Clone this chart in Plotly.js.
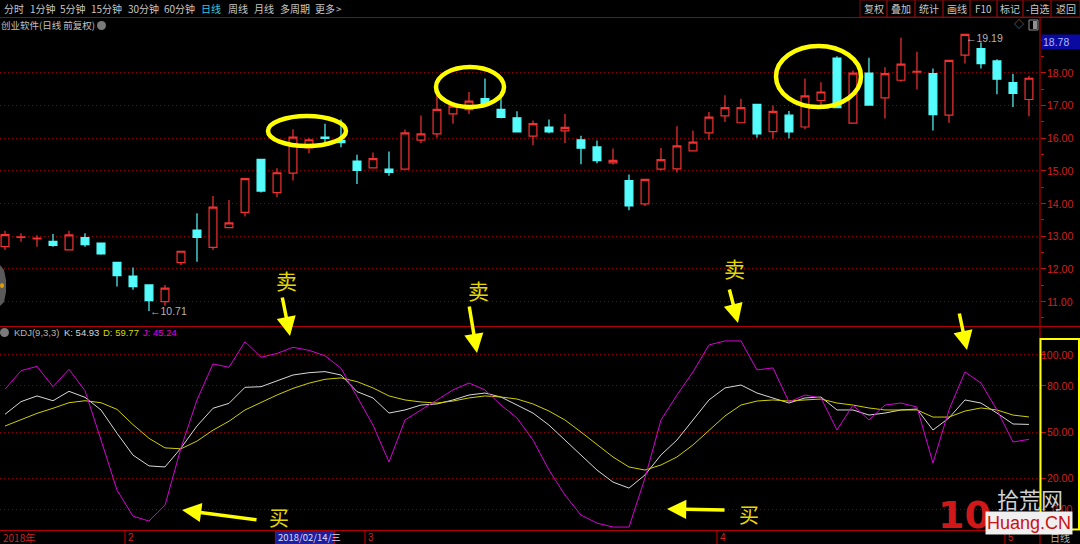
<!DOCTYPE html>
<html><head><meta charset="utf-8">
<script src="https://cdn.plot.ly/plotly-3.0.1.min.js"></script>
<style>html,body{margin:0;padding:0;background:#000;}#c{width:1080px;height:544px;}</style>
</head><body><div id="c"></div>
<script>
// ---- data ----
var dates = ['2018-01-22','2018-01-23','2018-01-24','2018-01-25','2018-01-26','2018-01-29','2018-01-30','2018-01-31',
'2018-02-01','2018-02-02','2018-02-05','2018-02-06','2018-02-07','2018-02-08','2018-02-09','2018-02-12','2018-02-13','2018-02-14','2018-02-22','2018-02-23','2018-02-26','2018-02-27','2018-02-28',
'2018-03-01','2018-03-02','2018-03-05','2018-03-06','2018-03-07','2018-03-08','2018-03-09','2018-03-12','2018-03-13','2018-03-14','2018-03-15','2018-03-16','2018-03-19','2018-03-20','2018-03-21','2018-03-22','2018-03-23','2018-03-26','2018-03-27','2018-03-28','2018-03-29','2018-03-30',
'2018-04-02','2018-04-03','2018-04-04','2018-04-09','2018-04-10','2018-04-11','2018-04-12','2018-04-13','2018-04-16','2018-04-17','2018-04-18','2018-04-19','2018-04-20','2018-04-23','2018-04-24','2018-04-25','2018-04-26','2018-04-27',
'2018-05-02','2018-05-03'];
var openP  = [12.68,12.96,12.92,12.84,12.58,12.96,12.79,12.20,11.78,11.51,11.00,12.19,13.19,12.66,13.26,13.73,15.35,14.33,14.93,15.70,16.03,15.93,15.30,15.09,15.05,15.05,15.94,16.13,16.74,16.87,17.21,16.88,16.62,16.06,16.34,16.22,15.95,15.73,15.24,14.70,13.99,15.05,15.06,15.61,16.16,16.68,16.47,17.03,16.20,16.70,16.34,17.15,18.45,16.46,17.99,17.23,17.77,18.02,17.97,16.70,18.54,18.74,18.36,17.70,17.18];
var highP  = [13.17,13.09,13.03,13.07,13.17,13.09,12.79,12.20,12.04,11.51,11.51,12.54,13.70,14.23,14.11,14.76,15.36,15.08,16.27,16.01,16.44,16.57,15.49,15.56,15.59,16.26,16.69,17.30,17.05,17.41,17.82,17.26,16.82,16.54,16.57,16.74,16.07,15.93,15.68,14.89,14.74,15.70,16.36,16.23,16.80,17.31,17.20,17.05,17.00,16.83,17.82,17.71,18.50,18.07,18.46,18.17,19.07,18.64,18.13,18.38,19.19,18.92,18.41,17.97,17.90];
var lowP   = [12.58,12.83,12.68,12.68,12.56,12.68,12.43,11.46,11.36,10.71,10.87,12.12,12.22,12.58,13.26,13.60,14.34,14.19,14.70,15.54,15.88,15.72,14.60,15.09,14.85,15.05,15.85,16.01,16.44,16.74,17.05,16.61,16.19,15.78,16.15,15.85,15.20,15.23,15.19,13.79,13.92,15.01,14.95,15.61,15.94,16.49,16.47,16.01,15.98,15.99,16.27,16.93,16.91,16.46,17.01,16.60,17.72,17.49,16.23,16.47,18.28,18.13,17.34,16.95,16.67];
var closeP = [13.05,12.98,12.94,12.72,13.04,12.74,12.46,11.79,11.46,11.03,11.41,12.54,12.96,13.89,13.41,14.76,14.38,14.94,16.03,15.95,15.99,15.86,15.01,15.37,14.95,16.16,16.13,16.88,16.98,17.13,17.05,16.63,16.19,16.44,16.19,16.33,15.69,15.31,15.32,13.93,14.74,15.34,15.76,15.88,16.64,16.93,16.93,16.13,16.82,16.19,17.29,17.41,16.93,17.99,17.01,17.97,18.26,18.04,16.72,18.38,19.17,18.28,17.80,17.37,17.83];
var kVal = [61.5,69.7,73.4,70.3,76.4,72.5,64.3,49.2,35.0,28.0,27.3,39.6,53.9,65.4,68.6,79.0,79.4,83.0,87.0,88.5,89.2,87.0,76.2,
72.1,62.3,64.3,67.5,68.2,70.8,74.0,75.3,72.7,67.5,62.3,54.5,44.8,35.1,25.3,17.5,13.6,22.1,35.1,44.8,57.8,70.8,78.6,80.5,75.3,72.1,68.8,72.1,72.7,64.3,64.3,61.0,62.3,64.3,64.9,51.3,59.1,70.8,68.8,62.3,55.2,54.93];
var dVal = [53.9,58.2,62.1,65.4,69.0,70.3,69.0,64.7,54.8,45.9,39.7,39.1,44.1,51.2,57.0,64.3,69.4,74.0,78.3,81.7,84.2,85.1,82.7,
78.6,73.4,70.8,69.5,68.8,70.1,72.1,73.4,72.7,71.4,68.2,63.6,57.8,50.0,41.6,33.8,27.3,25.3,28.6,33.8,41.6,51.3,60.4,67.5,70.1,70.8,70.1,70.8,71.4,68.8,67.5,65.6,64.3,64.3,64.3,59.7,59.7,63.6,65.6,64.3,61.0,59.77];
var jVal = [77.7,89.8,92.6,79.4,90.7,76.8,44.8,12.3,-4.6,-7.8,2.5,39.6,70.8,94.2,92.0,108.6,98.5,101.0,105.0,103.0,99.5,91.4,73.0,
54.5,30.5,57.8,64.3,70.8,77.3,81.8,77.3,67.5,59.1,44.8,25.3,9.1,-3.9,-9.1,-11.7,-11.7,20.1,57.8,74.0,89.0,106.5,109.1,109.1,90.3,91.6,69.5,74.0,72.1,51.3,67.5,57.8,67.5,68.8,66.2,29.9,64.3,89.0,81.8,64.3,43.5,45.24];
var priceTicks = [11,12,13,14,15,16,17,18];
var kdjTicks = [0,20,50,80,100];
var monthLabels = ['2','3','4','5'];
var toolbarItems = ['分时','1分钟','5分钟','15分钟','30分钟','60分钟','日线','周线','月线','多周期','更多','>'];
var toolbarX = [2,28,58,89,126,162,199,226,252,278,313,334];
var buttons = ['复权','叠加','统计','画线','F10','标记','-自选','返回'];
var buttonEdges = [860,887,915,943,970,997,1023,1051,1080];

// ---- layout helpers (pixel -> paper) ----
var W = 1040, TOP = 30, BOT = 530, H = BOT - TOP;
function PX(x){ return x / W; }
function PY(y){ return (BOT - y) / H; }
var FONT = 'Liberation Sans, Noto Sans CJK SC, sans-serif';
var CJK = 'Noto Sans CJK SC, sans-serif';
function T(text, x, y, color, size, anchor, family, extra){
  var a = {xref:'paper', yref:'paper', x:PX(x), y:PY(y), text:text, showarrow:false,
    xanchor: anchor || 'left', yanchor:'middle', font:{family: family || CJK, size: size || 10, color: color || '#c8c8c8'}};
  if (extra) for (var k in extra) a[k] = extra[k];
  return a;
}
function R(x0,y0,x1,y1,line,fill,w){
  return {type:'rect', xref:'paper', yref:'paper', x0:PX(x0), x1:PX(x1), y0:PY(y1), y1:PY(y0),
    line:{color: line || 'rgba(0,0,0,0)', width: w===undefined?1:w}, fillcolor: fill || 'rgba(0,0,0,0)', layer:'above'};
}
function L(x0,y0,x1,y1,color,w,dash){
  return {type:'line', xref:'paper', yref:'paper', x0:PX(x0), x1:PX(x1), y0:PY(y0), y1:PY(y1),
    line:{color:color, width:w||1, dash:dash||'solid'}, layer:'above'};
}
function E(x0,y0,x1,y1){
  return {type:'circle', xref:'paper', yref:'paper', x0:PX(x0), x1:PX(x1), y0:PY(y1), y1:PY(y0),
    line:{color:'#ffff00', width:4.5}, layer:'above'};
}
function ARW(tx,ty,fx,fy){
  return {xref:'paper', yref:'paper', x:PX(tx), y:PY(ty), ax:fx-tx, ay:fy-ty, axref:'pixel', ayref:'pixel',
    text:'', showarrow:true, arrowhead:2, arrowsize:1.1, arrowwidth:3.5, arrowcolor:'#ffff00'};
}

var traces = [
  {type:'candlestick', x:dates, open:openP, high:highP, low:lowP, close:closeP, xaxis:'x', yaxis:'y',
   increasing:{line:{color:'#f23232', width:1.2}, fillcolor:'#000000'},
   decreasing:{line:{color:'#54fcfc', width:1.2}, fillcolor:'#54fcfc'},
   whiskerwidth:0, hoverinfo:'skip', showlegend:false},
  {type:'scatter', mode:'lines', x:dates, y:kVal, xaxis:'x', yaxis:'y2', line:{color:'#d8d8d8', width:1}, showlegend:false, hoverinfo:'skip'},
  {type:'scatter', mode:'lines', x:dates, y:dVal, xaxis:'x', yaxis:'y2', line:{color:'#d0d000', width:1}, showlegend:false, hoverinfo:'skip'},
  {type:'scatter', mode:'lines', x:dates, y:jVal, xaxis:'x', yaxis:'y2', line:{color:'#d800d8', width:1}, showlegend:false, hoverinfo:'skip'}
];

var annotations = [], shapes = [];
// toolbar
toolbarItems.forEach(function(t,i){ annotations.push(T(t, toolbarX[i], 9, t==='日线' ? '#3ec8e0' : '#c8c8c8', 10)); });
buttons.forEach(function(t,i){
  shapes.push(R(buttonEdges[i], 0, buttonEdges[i+1], 17, '#7a0a0a', null, 1));
  annotations.push(T(t, (buttonEdges[i]+buttonEdges[i+1])/2, 9, '#c8c8c8', 10, 'center'));
});
shapes.push(L(0,17.5,1080,17.5,'#a00000',1.2));
annotations.push(T('创业软件(日线 前复权)', -1, 25, '#c0c0c0', 9.5));
shapes.push({type:'circle', xref:'paper', yref:'paper', x0:PX(97), x1:PX(106), y0:PY(30), y1:PY(21), fillcolor:'#7a7a7a', line:{width:0}, layer:'above'});
annotations.push(T('◇', 1012, 25, '#909090', 10, 'left', FONT));
shapes.push(R(1029, 20, 1038, 30, '#909090', null, 1));
shapes.push(R(1033, 21, 1037, 29, null, '#909090', 0));

// panel separators / frame
shapes.push(L(0,326.5,1080,326.5,'#b00000',1.2));
shapes.push(L(1040,17,1040,544,'#b00000',1.2));
shapes.push(L(0,530.5,1040,530.5,'#b00000',1.2));

// price axis labels (tied to price scale)
priceTicks.forEach(function(v){
  annotations.push({xref:'paper', yref:'y', x:1, xshift:35, y:v, text:v.toFixed(2), showarrow:false, xanchor:'right', yanchor:'middle',
    font:{family:FONT, size:10.5, color:'#d02020'}});
});
kdjTicks.forEach(function(v){
  annotations.push({xref:'paper', yref:'y2', x:1, xshift:35, y:v, text:v.toFixed(2), showarrow:false, xanchor:'right', yanchor:'middle',
    font:{family:FONT, size:10.5, color:'#d02020'}});
});
// cursor price label
annotations.push(T('18.78', 1041, 41.5, '#b0b8ff', 10.5, 'left', FONT, {bgcolor:'#0a0aa0', width:36, align:'left'}));

// high / low marks
annotations.push(T('←10.71', 148, 311, '#b4b4b4', 10.5, 'left', FONT));
annotations.push(T('←19.19', 964, 38, '#b4b4b4', 10.5, 'left', FONT));

// KDJ title
shapes.push({type:'circle', xref:'paper', yref:'paper', x0:PX(0), x1:PX(9), y0:PY(337), y1:PY(328), fillcolor:'#7a7a7a', line:{width:0}, layer:'above'});
annotations.push(T('KDJ(9,3,3)', 12, 332.5, '#b4b4b4', 9.5, 'left', FONT));
annotations.push(T('K: 54.93', 62, 332.5, '#d8d8d8', 9.5, 'left', FONT));
annotations.push(T('D: 59.77', 101, 332.5, '#d8d800', 9.5, 'left', FONT));
annotations.push(T('J: 45.24', 141, 332.5, '#e000e0', 9.5, 'left', FONT));

// bottom axis: month ticks from the dates array
var monthStart = [];
for (var i=1;i<dates.length;i++){ if (dates[i].slice(5,7)!==dates[i-1].slice(5,7)) monthStart.push(i); }
monthStart.forEach(function(idx,m){
  shapes.push({type:'line', xref:'x', yref:'paper', x0:idx-0.5, x1:idx-0.5, y0:PY(531), y1:PY(544), line:{color:'#b00000', width:1.2}, layer:'above'});
  annotations.push({xref:'x', yref:'paper', x:idx-0.5, xshift:1, y:PY(537), text:monthLabels[m], showarrow:false, xanchor:'left', yanchor:'middle',
    font:{family:FONT, size:10, color:'#d02020'}});
});
annotations.push(T('2018年', 1, 537, '#d02020', 10, 'left', CJK));
var cur = dates.indexOf('2018-02-14');
shapes.push({type:'rect', xref:'x', yref:'paper', x0:cur-0.1, x1:cur+3.6, y0:PY(544), y1:PY(531), fillcolor:'#1e1e9c', line:{color:'#b00000', width:1}, layer:'above'});
annotations.push({xref:'x', yref:'paper', x:cur-0.05, y:PY(537), text:'2018/02/14/三', showarrow:false, xanchor:'left', yanchor:'middle',
  font:{family:CJK, size:9.5, color:'#dcdcff'}});
annotations.push(T('日线', 1048, 537.5, '#b0b0b0', 10));

// yellow markup
shapes.push(E(268,116,346,146));
shapes.push(E(436,67,504,107));
shapes.push(E(776,46,861,107));
shapes.push(R(1040.5,339,1079,529.5,'#ffff00',null,2));
annotations.push(T('卖', 286, 280, '#e8d800', 21, 'center'));
annotations.push(T('卖', 478, 290, '#e8d800', 21, 'center'));
annotations.push(T('卖', 734, 268, '#e8d800', 21, 'center'));
annotations.push(T('买', 279, 517, '#e8d800', 20, 'center'));
annotations.push(T('买', 749, 514, '#e8d800', 20, 'center'));
annotations.push(ARW(290,336,282,296));
annotations.push(ARW(477,353,469,305));
annotations.push(ARW(738,323,729,288));
annotations.push(ARW(967,350,959,312));
annotations.push(ARW(182,510,258,520));
annotations.push(ARW(667,509,726,510));

// left edge icon
shapes.push({type:'path', xref:'paper', yref:'paper', path:'M '+PX(0)+' '+PY(265)+' L '+PX(4)+' '+PY(270)+' L '+PX(6)+' '+PY(280)+' L '+PX(6)+' '+PY(292)+' L '+PX(4)+' '+PY(302)+' L '+PX(0)+' '+PY(306)+' Z', fillcolor:'#5a5a5a', line:{width:0}, layer:'above'});
shapes.push({type:'circle', xref:'paper', yref:'paper', x0:PX(0), x1:PX(4), y0:PY(288), y1:PY(283), fillcolor:'#e0a000', line:{width:0}, layer:'above'});

// watermark
annotations.push(T('10', 936, 515, '#d01818', 38, 'left', 'DejaVu Sans', {font:{family:'DejaVu Sans', size:38, color:'#d01818', weight:'bold'}}));
annotations.push(T('拾荒网', 1030, 498, '#d0d0d0', 22, 'center', CJK));
annotations.push(T('Huang.CN', 1029, 523, '#cc1111', 18, 'center', FONT, {bgcolor:'#f0f0f0'}));

var layout = {
  width:1080, height:544, paper_bgcolor:'#000', plot_bgcolor:'#000',
  margin:{l:0, r:40, t:TOP, b:544-BOT}, showlegend:false, hovermode:false, dragmode:false,
  xaxis:{type:'category', range:[-0.3125, 64.69], anchor:'y2', showgrid:false, zeroline:false, showticklabels:false, ticks:'', showline:false,
         rangeslider:{visible:false}, fixedrange:true},
  yaxis:{domain:[(BOT-326)/H, 1], range:[10.254, 19.306], side:'right', showgrid:true, gridcolor:'#900000', griddash:'1px,3px', gridwidth:1,
         tickvals:priceTicks, ticks:'outside', ticklen:5, tickcolor:'#c01010', showticklabels:false, zeroline:false, showline:false,
         minor:{dtick:0.5, tick0:0, ticks:'outside', ticklen:3, tickcolor:'#c01010', showgrid:false}, fixedrange:true},
  yaxis2:{domain:[0, (BOT-326)/H], range:[-13.6, 118.8], side:'right', showgrid:true, gridcolor:'#900000', griddash:'1px,3px', gridwidth:1,
         tickvals:kdjTicks, ticks:'outside', ticklen:5, tickcolor:'#c01010', showticklabels:false, zeroline:false, showline:false, fixedrange:true},
  shapes:shapes, annotations:annotations
};
Plotly.newPlot('c', traces, layout, {staticPlot:true, displayModeBar:false});
</script></body></html>
